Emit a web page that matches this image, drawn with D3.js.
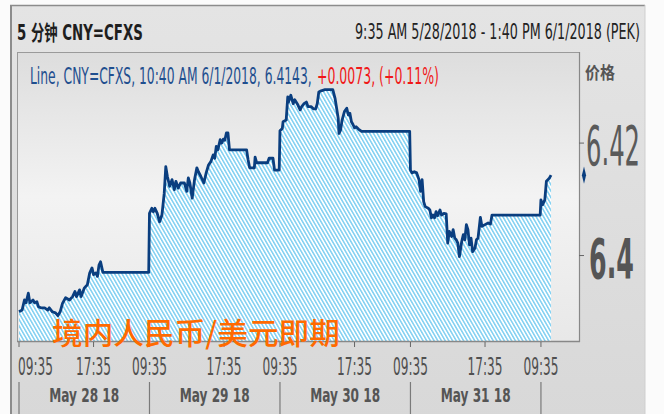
<!DOCTYPE html>
<html><head><meta charset="utf-8">
<script src="https://cdn.jsdelivr.net/npm/d3@7"></script>
<style>html,body{margin:0;padding:0;background:#fbfbfb;}svg{display:block}</style>
</head><body>
<script>
// ---- data ----
// 5-minute bar index since 09:35 5/28/2018 (168 bars per trading session 09:35-23:30)
const barIndex = [0,4,7,9,12,14,18,20,23,25,28,33,37,39,43,47,50,53,56,60,65,69,72,74,78,80,84,88,91,94,96,99,101,103,105,108,167,
168,171,173,175,178,181,184,187,189,191,194,197,200,202,205,208,213,216,218,220,223,226,229,231,234,238,241,244,247,250,252,254,256,259,261,263,265,267,269,271,293,295,297,303,304,306,320,322,327,329,335,
336,339,340,344,346,347,350,353,355,359,362,364,367,370,372,376,379,382,384,386,389,394,404,407,411,412,414,416,419,422,424,426,428,430,432,434,437,441,503,
504,506,509,512,515,517,519,521,523,527,529,531,533,535,537,539,542,544,547,550,552,554,557,559,561,563,565,567,570,572,574,576,578,580,582,584,587,589,591,594,596,600,604,607,609,671,
672,674,677,679,681,683,685];
const prices = [6.3900,6.3903,6.3921,6.3916,6.3933,6.3916,6.3921,6.3916,6.3918,6.3909,6.3907,6.3907,6.3903,6.3907,6.3900,6.3898,6.3893,6.3900,6.3915,6.3925,6.3921,6.3927,6.3936,6.3927,6.3939,6.3927,6.3942,6.3948,6.3969,6.3978,6.3966,6.3969,6.3963,6.3983,6.3989,6.3970,6.3970,
6.4075,6.4084,6.4078,6.4084,6.4075,6.4060,6.4072,6.4111,6.4158,6.4141,6.4123,6.4135,6.4117,6.4132,6.4120,6.4129,6.4129,6.4114,6.4138,6.4129,6.4102,6.4135,6.4156,6.4149,6.4141,6.4129,6.4147,6.4161,6.4167,6.4179,6.4173,6.4194,6.4188,6.4206,6.4200,6.4207,6.4205,6.4218,6.4218,6.4188,6.4188,6.4170,6.4156,6.4156,6.4175,6.4165,6.4165,6.4173,6.4173,6.4152,6.4152,
6.4222,6.4226,6.4238,6.4241,6.4282,6.4273,6.4285,6.4270,6.4277,6.4268,6.4259,6.4265,6.4270,6.4273,6.4265,6.4265,6.4261,6.4261,6.4270,6.4291,6.4293,6.4295,6.4295,6.4279,6.4244,6.4217,6.4223,6.4241,6.4256,6.4262,6.4250,6.4253,6.4238,6.4233,6.4227,6.4229,6.4225,6.4221,6.4221,
6.4152,6.4147,6.4149,6.4147,6.4135,6.4114,6.4135,6.4096,6.4087,6.4084,6.4081,6.4067,6.4072,6.4067,6.4078,6.4071,6.4081,6.4072,6.4075,6.4074,6.4022,6.4043,6.4034,6.4046,6.4031,6.4028,6.4022,6.3998,6.4025,6.4037,6.4028,6.4055,6.4046,6.4019,6.4031,6.4007,6.4013,6.4028,6.4031,6.4068,6.4052,6.4055,6.4058,6.4056,6.4072,6.4072,
6.4099,6.4090,6.4099,6.4132,6.4135,6.4138,6.4143];
const lastBar = 721; // 1:40 PM 6/1/2018
const yDomain = [6.3848, 6.4362];
const yTicks = [6.42, 6.40];
const yTickLabels = ["6.42", "6.4"];
const timeTickBars = [0,96,168,264,336,432,504,600,672];
const timeTickLabels = ["09:35","17:35","09:35","17:35","09:35","17:35","09:35","17:35","09:35"];
const dayStartBars = [0,168,336,504,672];
const dayLabels = ["May 28 18","May 29 18","May 30 18","May 31 18"];
const titleText = "5 分钟 CNY=CFXS";
const rangeText = "9:35 AM 5/28/2018 - 1:40 PM 6/1/2018 (PEK)";
const legendBlue = "Line, CNY=CFXS, 10:40 AM 6/1/2018, 6.4143,";
const legendRed = "+0.0073, (+0.11%)";
const axisTitle = "价格";
const overlayText = "境内人民币/美元即期";

// ---- layout ----
const W = 664, H = 414;
const plot = {l: 19, r: 579, t: 52, b: 341};
const svg = d3.select("body").append("svg").attr("width", W).attr("height", H);
const defs = svg.append("defs");

const pg = defs.append("linearGradient").attr("id","panelG").attr("x1",0).attr("x2",0).attr("y1",0).attr("y2",1);
pg.append("stop").attr("offset","0%").attr("stop-color","#e4e4e4");
pg.append("stop").attr("offset","100%").attr("stop-color","#d8d8d8");
const bg = defs.append("linearGradient").attr("id","plotG").attr("x1",0).attr("x2",0).attr("y1",0).attr("y2",1);
bg.append("stop").attr("offset","0%").attr("stop-color","#dddddd");
bg.append("stop").attr("offset","50%").attr("stop-color","#f3f3f3");
bg.append("stop").attr("offset","100%").attr("stop-color","#e8e8e8");
const hatch = defs.append("pattern").attr("id","hatch").attr("patternUnits","userSpaceOnUse")
  .attr("width",3.2).attr("height",10).attr("patternTransform","rotate(-30)");
hatch.append("rect").attr("width",3.2).attr("height",10).attr("fill","#ffffff");
hatch.append("rect").attr("width",1.5).attr("height",10).attr("fill","#7fd0f2");

// page background and frame
svg.append("rect").attr("width",W).attr("height",H).attr("fill","#fbfbfb");
svg.append("rect").attr("x",11).attr("y",5).attr("width",634).attr("height",H).attr("fill","url(#panelG)");
svg.append("line").attr("x1",11).attr("x2",11).attr("y1",5).attr("y2",H).attr("stroke","#8c8c8c").attr("stroke-width",2);
svg.append("line").attr("x1",10).attr("x2",645).attr("y1",5.5).attr("y2",5.5).attr("stroke","#8c8c8c").attr("stroke-width",1.5);
svg.append("line").attr("x1",645).attr("x2",645).attr("y1",5).attr("y2",H).attr("stroke","#cfcfcf").attr("stroke-width",1);

// scales
const x = d3.scaleLinear().domain([0, lastBar]).range([plot.l, plot.r]);
const y = d3.scaleLinear().domain(yDomain).range([plot.b, plot.t]);

svg.append("rect").attr("x",plot.l-1).attr("y",plot.t).attr("width",plot.r-plot.l+1).attr("height",plot.b-plot.t)
  .attr("fill","url(#plotG)");

const data = barIndex.map((b,i)=>({b, v: prices[i]}));
svg.append("path").datum(data)
  .attr("d", d3.area().x(d=>x(d.b)).y0(plot.b).y1(d=>y(d.v)))
  .attr("fill","url(#hatch)");
svg.append("path").datum(data)
  .attr("d", d3.line().x(d=>x(d.b)).y(d=>y(d.v)))
  .attr("fill","none").attr("stroke","#0a3e7f").attr("stroke-width",2.8).attr("stroke-linejoin","round");

// plot border
svg.append("rect").attr("x",plot.l-1.5).attr("y",plot.t+0.5).attr("width",plot.r-plot.l+2).attr("height",plot.b-plot.t)
  .attr("fill","none").attr("stroke","#9a9a9a").attr("stroke-width",1);
svg.append("line").attr("x1",plot.r+0.5).attr("x2",plot.r+0.5).attr("y1",plot.t).attr("y2",plot.b+1).attr("stroke","#888").attr("stroke-width",1.2);
svg.append("line").attr("x1",plot.l-2).attr("x2",plot.r+1).attr("y1",plot.b+0.5).attr("y2",plot.b+0.5).attr("stroke","#888").attr("stroke-width",1.5);

// text squeezed horizontally to a measured width (reference uses a narrow face)
function fitText(str, x0, yb, w, size, opts={}) {
  const g = svg.append("g");
  const t = g.append("text").attr("x", 0).attr("y", 0).text(str)
    .attr("font-family", opts.family || "'DejaVu Sans', 'Noto Sans CJK SC', sans-serif")
    .attr("font-size", size).attr("font-weight", opts.weight || (opts.bold ? "bold" : "normal"))
    .attr("fill", opts.fill || "#555");
  const nat = t.node().getComputedTextLength() || w;
  g.attr("transform", `translate(${x0},${yb}) scale(${w/nat},1)`);
  return g;
}

// header
fitText(titleText, 17, 39.5, 126, 21, {bold:true, fill:"#1e1e1e"});
fitText(rangeText, 355, 39, 285, 21, {fill:"#222"});
// legend
fitText(legendBlue, 30, 84, 282, 22.5, {fill:"#1f4f8f"});
fitText(legendRed, 317, 84, 122, 22.5, {fill:"#f01818"});

// y axis
fitText(axisTitle, 585, 79, 30, 17, {bold:true, fill:"#555", family:"'Noto Sans CJK SC',sans-serif"});
yTicks.forEach((t,i)=>{
  svg.append("line").attr("x1",plot.r).attr("x2",plot.r+5).attr("y1",y(t)).attr("y2",y(t)).attr("stroke","#666").attr("stroke-width",1);
});
fitText(yTickLabels[0], 586, y(yTicks[0])+22, 54, 56, {fill:"#5a5a5a"});
fitText(yTickLabels[1], 589, y(yTicks[1])+22, 45, 56, {bold:true, fill:"#555"});
// last value marker
const lv = prices[prices.length-1];
svg.append("path").attr("d", d3.symbol().type(d3.symbolDiamond).size(50)())
  .attr("transform", `translate(${plot.r+5},${y(lv)}) scale(0.55,1.3)`).attr("fill","#0a3e7f");

// x axis
timeTickBars.forEach((b,i)=>{
  const px = x(b);
  svg.append("line").attr("x1",px).attr("x2",px).attr("y1",plot.b+1).attr("y2",plot.b+6).attr("stroke","#666");
  const w = 35;
  let sx = px - w/2;
  if (sx < plot.l - 1) sx = plot.l - 1;
  fitText(timeTickLabels[i], sx, 375, w, 24, {fill:"#505050"});
});
dayStartBars.forEach(b=>{
  svg.append("line").attr("x1",x(b)).attr("x2",x(b)).attr("y1",382).attr("y2",H).attr("stroke","#7a7a7a").attr("stroke-width",1.2);
});
dayLabels.forEach((lab,i)=>{
  const cx = (x(dayStartBars[i]) + x(dayStartBars[i+1]))/2;
  fitText(lab, cx-35, 402, 70, 20, {bold:true, fill:"#555"});
});

// overlay caption
fitText(overlayText, 52, 344, 288, 30, {weight:500, fill:"#ff6a00", family:"'Noto Sans CJK SC',sans-serif"});
</script>
</body></html>
